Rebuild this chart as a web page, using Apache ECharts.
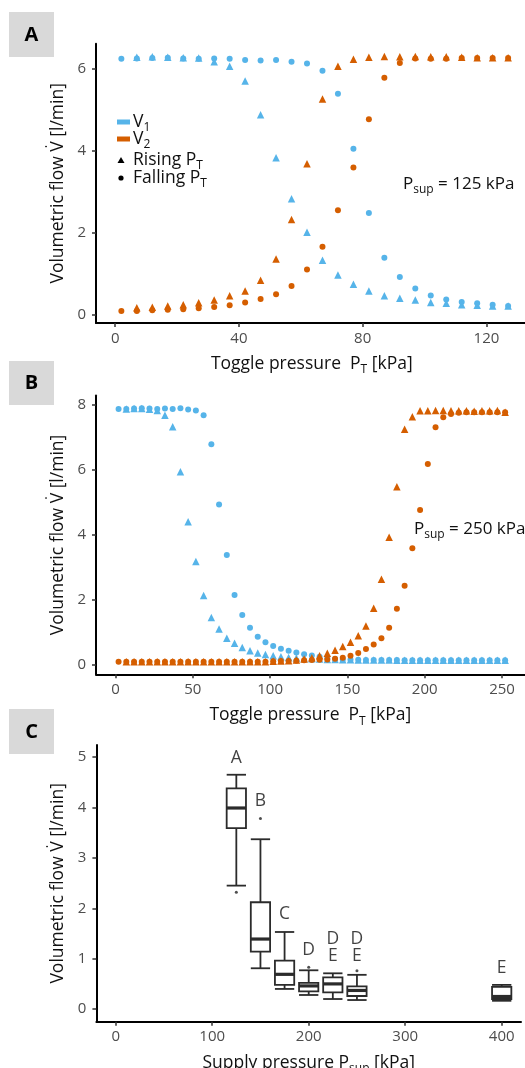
<!DOCTYPE html>
<html><head><meta charset="utf-8">
<script src="https://cdn.jsdelivr.net/npm/echarts@6/dist/echarts.min.js"></script>
<style>html,body{margin:0;padding:0;background:#fff}#c{width:525px;height:1068px}</style>
</head><body><div id="c"></div>
<script>
const BLUE = '#56B4E9', ORANGE = '#D55E00';
const FONT = 'Open Sans';

// ---------- Panel A (Psup = 125 kPa) ----------
const aRisingX  = [7,12,17,22,27,32,37,42,47,52,57,62,67,72,77,82,87,92,97,102,107,112,117,122,127];
const aFallingX = [2,7,12,17,22,27,32,37,42,47,52,57,62,67,72,77,82,87,92,97,102,107,112,117,122,127];
const aV1Rising  = [6.27,6.28,6.27,6.26,6.25,6.16,6.05,5.69,4.87,3.82,2.82,2.0,1.32,0.96,0.73,0.57,0.45,0.39,0.35,0.29,0.27,0.23,0.22,0.2,0.2];
const aV1Falling = [6.23,6.24,6.25,6.26,6.24,6.23,6.24,6.23,6.2,6.19,6.2,6.16,6.12,5.94,5.38,4.04,2.47,1.38,0.91,0.63,0.46,0.36,0.3,0.27,0.23,0.2];
const aV2Rising  = [0.16,0.17,0.2,0.23,0.28,0.35,0.45,0.57,0.83,1.35,2.31,3.67,5.25,6.05,6.22,6.27,6.29,6.28,6.29,6.28,6.28,6.27,6.26,6.26,6.26];
const aV2Falling = [0.08,0.08,0.1,0.11,0.12,0.15,0.18,0.22,0.29,0.37,0.49,0.69,1.09,1.65,2.54,3.58,4.76,5.77,6.13,6.24,6.23,6.23,6.25,6.25,6.25,6.25];
const aXTicks = [0,40,80,120];
const aYTicks = [0,2,4,6];

// ---------- Panel B (Psup = 250 kPa) ----------
const bRisingX  = [7,12,17,22,27,32,37,42,47,52,57,62,67,72,77,82,87,92,97,102,107,112,117,122,127,132,137,142,147,152,157,162,167,172,177,182,187,192,197,202,207,212,217,222,227,232,237,242,247,252];
const bFallingX = [2,7,12,17,22,27,32,37,42,47,52,57,62,67,72,77,82,87,92,97,102,107,112,117,122,127,132,137,142,147,152,157,162,167,172,177,182,187,192,197,202,207,212,217,222,227,232,237,242,247,252];
const bV1Rising = [7.88,7.89,7.89,7.87,7.83,7.68,7.33,5.94,4.40,3.17,
  2.12,1.44,1.09,0.80,0.65,0.52,0.42,0.35,0.30,0.26,
  0.23,0.21,0.19,0.18,0.17,0.16,0.15,0.15,0.14,0.14,
  0.13,0.13,0.13,0.13,0.13,0.12,0.12,0.12,0.12,0.12,
  0.12,0.12,0.12,0.12,0.12,0.12,0.12,0.12,0.12,0.12];
const bV1Falling = [7.88,7.88,7.89,7.90,7.89,7.88,7.89,7.88,7.90,7.86,
  7.83,7.68,6.79,4.93,3.37,2.14,1.52,1.13,0.85,0.68,
  0.56,0.48,0.42,0.36,0.31,0.27,0.23,0.19,0.16,0.15,
  0.14,0.14,0.13,0.13,0.13,0.13,0.13,0.12,0.12,0.12,
  0.12,0.12,0.12,0.12,0.12,0.12,0.12,0.12,0.12,0.12,0.12];
const bV2Rising = [0.08,0.08,0.08,0.08,0.08,0.08,0.08,0.08,0.08,0.08,
  0.08,0.08,0.08,0.08,0.08,0.08,0.08,0.08,0.08,
  0.09,0.10,0.11,0.13,0.16,0.20,0.26,0.34,0.43,0.55,0.68,0.88,1.18,1.73,2.62,3.92,5.48,7.25,7.64,7.82,
  7.82,7.83,7.83,7.82,7.82,7.82,7.81,7.82,7.82,7.83,7.78];
const bV2Falling = [0.08,0.08,0.08,0.08,0.08,0.08,0.08,0.08,0.08,0.08,
  0.08,0.08,0.08,0.08,0.08,0.08,0.08,0.08,0.08,0.08,
  0.09,0.10,0.10,0.11,0.12,0.13,0.14,0.15,0.17,0.20,0.26,0.35,0.47,0.61,0.80,1.13,1.71,2.42,3.58,4.76,
  6.18,7.31,7.62,7.72,7.76,7.78,7.78,7.78,7.78,7.78,7.78];
const bXTicks = [0,50,100,150,200,250];
const bYTicks = [0,2,4,6,8];

// ---------- Panel C (boxplots vs supply pressure) ----------
const cPsup = [125,150,175,200,225,250,400];
const cMin  = [2.45,0.81,0.40,0.28,0.20,0.18,0.165];
const cQ1   = [3.59,1.14,0.48,0.35,0.33,0.26,0.20];
const cMed  = [3.99,1.39,0.69,0.46,0.50,0.37,0.25];
const cQ3   = [4.38,2.12,0.96,0.52,0.63,0.45,0.44];
const cMax  = [4.65,3.37,1.53,0.77,0.71,0.68,0.48];
const cOutX = [125,150,200,250];
const cOutY = [2.32,3.78,0.83,0.76];
const cLetterX = [125,150,175,200,225,250,400];
const cLetterY = [4.99,4.12,1.88,1.18,1.225,1.225,0.81];
const cLetters = ['A','B','C','D','D\nE','D\nE','E'];
const cXTicks = [0,100,200,300,400];
const cYTicks = [0,1,2,3,4,5];

const pairs = (xs, ys) => xs.map((x, i) => [x, ys[i]]);

const subRich = {
  s: { fontSize: 12, fontFamily: FONT, color: '#111', verticalAlign: 'bottom', padding: [0,0,-3,0] }
};
const nameStyle = { fontSize: 17.5, fontFamily: FONT, color: '#111', rich: subRich };

function xAx(gi, min, max, ticks, name, gap) {
  return {
    type: 'value', gridIndex: gi, min, max,
    axisLine: { show: true, onZero: false, lineStyle: { color: '#000', width: 2 } },
    axisTick: { show: true, length: 4, customValues: ticks, lineStyle: { color: '#333', width: 1.5 } },
    axisLabel: { customValues: ticks, color: '#4d4d4d', fontSize: 15, fontFamily: FONT, margin: 8 },
    splitLine: { show: false },
    name, nameLocation: 'middle', nameGap: gap, nameTextStyle: nameStyle
  };
}
function yAx(gi, min, max, ticks) {
  return {
    type: 'value', gridIndex: gi, min, max,
    axisLine: { show: true, onZero: false, lineStyle: { color: '#000', width: 2 } },
    axisTick: { show: true, length: 4, customValues: ticks, lineStyle: { color: '#333', width: 1.5 } },
    axisLabel: { customValues: ticks, color: '#4d4d4d', fontSize: 15, fontFamily: FONT, margin: 10 },
    splitLine: { show: false },
    name: 'Volumetric flow V\u0307 [l/min]', nameLocation: 'middle', nameGap: 24,
    nameTextStyle: nameStyle
  };
}
function sc(gi, name, data, color, symbol) {
  return {
    type: 'scatter', name, xAxisIndex: gi, yAxisIndex: gi, data,
    symbol, symbolSize: symbol === 'triangle' ? 7.5 : 6,
    itemStyle: { color, opacity: 1 }, silent: true, animation: false
  };
}

const BOX_W = 20;
const chart = echarts.init(document.getElementById('c'), null, { renderer: 'canvas' });
chart.setOption({
  backgroundColor: '#fff',
  animation: false,
  grid: [
    { left: 96, top: 43.7, width: 431.6, height: 279.2, outerBoundsMode: 'none', containLabel: false },
    { left: 96, top: 395.6, width: 428.6, height: 278.7, outerBoundsMode: 'none', containLabel: false },
    { left: 96.4, top: 745, width: 424.6, height: 276.7, outerBoundsMode: 'none', containLabel: false }
  ],
  xAxis: [
    xAx(0, -6.2, 133.3, aXTicks, 'Toggle pressure  P{s|T} [kPa]', 32),
    xAx(1, -12.6, 264.6, bXTicks, 'Toggle pressure  P{s|T} [kPa]', 32),
    xAx(2, -20, 420, cXTicks, 'Supply pressure P{s|sup} [kPa]', 32)
  ],
  yAxis: [
    yAx(0, -0.21, 6.6, aYTicks),
    yAx(1, -0.31, 8.29, bYTicks),
    yAx(2, -0.25, 5.24, cYTicks)
  ],
  series: [
    sc(0, 'A V1 rising', pairs(aRisingX, aV1Rising), BLUE, 'triangle'),
    sc(0, 'A V1 falling', pairs(aFallingX, aV1Falling), BLUE, 'circle'),
    sc(0, 'A V2 rising', pairs(aRisingX, aV2Rising), ORANGE, 'triangle'),
    sc(0, 'A V2 falling', pairs(aFallingX, aV2Falling), ORANGE, 'circle'),
    sc(1, 'B V1 rising', pairs(bRisingX, bV1Rising), BLUE, 'triangle'),
    sc(1, 'B V1 falling', pairs(bFallingX, bV1Falling), BLUE, 'circle'),
    sc(1, 'B V2 rising', pairs(bRisingX, bV2Rising), ORANGE, 'triangle'),
    sc(1, 'B V2 falling', pairs(bFallingX, bV2Falling), ORANGE, 'circle'),
    {
      type: 'custom', name: 'C boxes', xAxisIndex: 2, yAxisIndex: 2, silent: true,
      data: cPsup.map((x, i) => [x, cMin[i], cQ1[i], cMed[i], cQ3[i], cMax[i]]),
      encode: { x: 0, y: [1,2,3,4,5] },
      renderItem: (params, api) => {
        const x = api.value(0);
        const hw = api.size([BOX_W, 0])[0] / 2;
        const p = k => api.coord([x, api.value(k)]);
        const pMin = p(1), pQ1 = p(2), pMed = p(3), pQ3 = p(4), pMax = p(5);
        const cx = pMin[0];
        const st = { stroke: '#2b2b2b', lineWidth: 1.8, fill: null };
        return { type: 'group', children: [
          { type: 'line', shape: { x1: cx, y1: pMin[1], x2: cx, y2: pQ1[1] }, style: st },
          { type: 'line', shape: { x1: cx, y1: pQ3[1], x2: cx, y2: pMax[1] }, style: st },
          { type: 'line', shape: { x1: cx - hw, y1: pMin[1], x2: cx + hw, y2: pMin[1] }, style: st },
          { type: 'line', shape: { x1: cx - hw, y1: pMax[1], x2: cx + hw, y2: pMax[1] }, style: st },
          { type: 'rect', shape: { x: cx - hw, y: pQ3[1], width: 2 * hw, height: pQ1[1] - pQ3[1] },
            style: { fill: '#fff', stroke: '#2b2b2b', lineWidth: 1.8 } },
          { type: 'line', shape: { x1: cx - hw, y1: pMed[1], x2: cx + hw, y2: pMed[1] },
            style: { stroke: '#2b2b2b', lineWidth: 3.2 } }
        ]};
      }
    },
    {
      type: 'scatter', name: 'C outliers', xAxisIndex: 2, yAxisIndex: 2, silent: true,
      data: pairs(cOutX, cOutY), symbol: 'circle', symbolSize: 3, itemStyle: { color: '#222' }
    },
    {
      type: 'scatter', name: 'C letters', xAxisIndex: 2, yAxisIndex: 2, silent: true,
      data: cLetterX.map((x, i) => ({ value: [x, cLetterY[i]], name: cLetters[i] })),
      symbolSize: 0,
      label: { show: true, position: 'inside', formatter: '{b}', color: '#111',
               fontSize: 17.5, fontFamily: FONT, lineHeight: 17 }
    }
  ],
  graphic: [
    // panel tags
    { type: 'rect', shape: { x: 9, y: 12, width: 45, height: 45 }, style: { fill: '#d9d9d9' } },
    { type: 'text', x: 31.5, y: 35, style: { text: 'A', font: 'bold 20px "Open Sans"', fill: '#000', align: 'center', verticalAlign: 'middle' } },
    { type: 'rect', shape: { x: 9, y: 361, width: 45, height: 44 }, style: { fill: '#d9d9d9' } },
    { type: 'text', x: 31.5, y: 383, style: { text: 'B', font: 'bold 20px "Open Sans"', fill: '#000', align: 'center', verticalAlign: 'middle' } },
    { type: 'rect', shape: { x: 9, y: 709, width: 45, height: 45 }, style: { fill: '#d9d9d9' } },
    { type: 'text', x: 31.5, y: 732, style: { text: 'C', font: 'bold 20px "Open Sans"', fill: '#000', align: 'center', verticalAlign: 'middle' } },
    // legend in panel A
    { type: 'rect', shape: { x: 117, y: 119.5, width: 13, height: 5 }, style: { fill: BLUE } },
    { type: 'text', x: 133, y: 122, style: { text: 'V{s|1}', rich: subRich, fontSize: 17.5, fontFamily: FONT, fill: '#111', verticalAlign: 'middle' } },
    { type: 'rect', shape: { x: 117, y: 136.5, width: 13, height: 5 }, style: { fill: ORANGE } },
    { type: 'text', x: 133, y: 139, style: { text: 'V{s|2}', rich: subRich, fontSize: 17.5, fontFamily: FONT, fill: '#111', verticalAlign: 'middle' } },
    { type: 'polygon', shape: { points: [[117.5, 163], [124.5, 163], [121, 157]] }, style: { fill: '#000' } },
    { type: 'text', x: 133, y: 160, style: { text: 'Rising P{s|T}', rich: subRich, fontSize: 17.5, fontFamily: FONT, fill: '#111', verticalAlign: 'middle' } },
    { type: 'circle', shape: { cx: 121, cy: 178, r: 2.6 }, style: { fill: '#000' } },
    { type: 'text', x: 133, y: 178, style: { text: 'Falling P{s|T}', rich: subRich, fontSize: 17.5, fontFamily: FONT, fill: '#111', verticalAlign: 'middle' } },
    // supply pressure annotations
    { type: 'text', x: 403, y: 184, style: { text: 'P{s|sup} = 125 kPa', rich: subRich, fontSize: 17, fontFamily: FONT, fill: '#111', verticalAlign: 'middle' } },
    { type: 'text', x: 414, y: 529, style: { text: 'P{s|sup} = 250 kPa', rich: subRich, fontSize: 17, fontFamily: FONT, fill: '#111', verticalAlign: 'middle' } }
  ]
});
</script>
</body></html>
